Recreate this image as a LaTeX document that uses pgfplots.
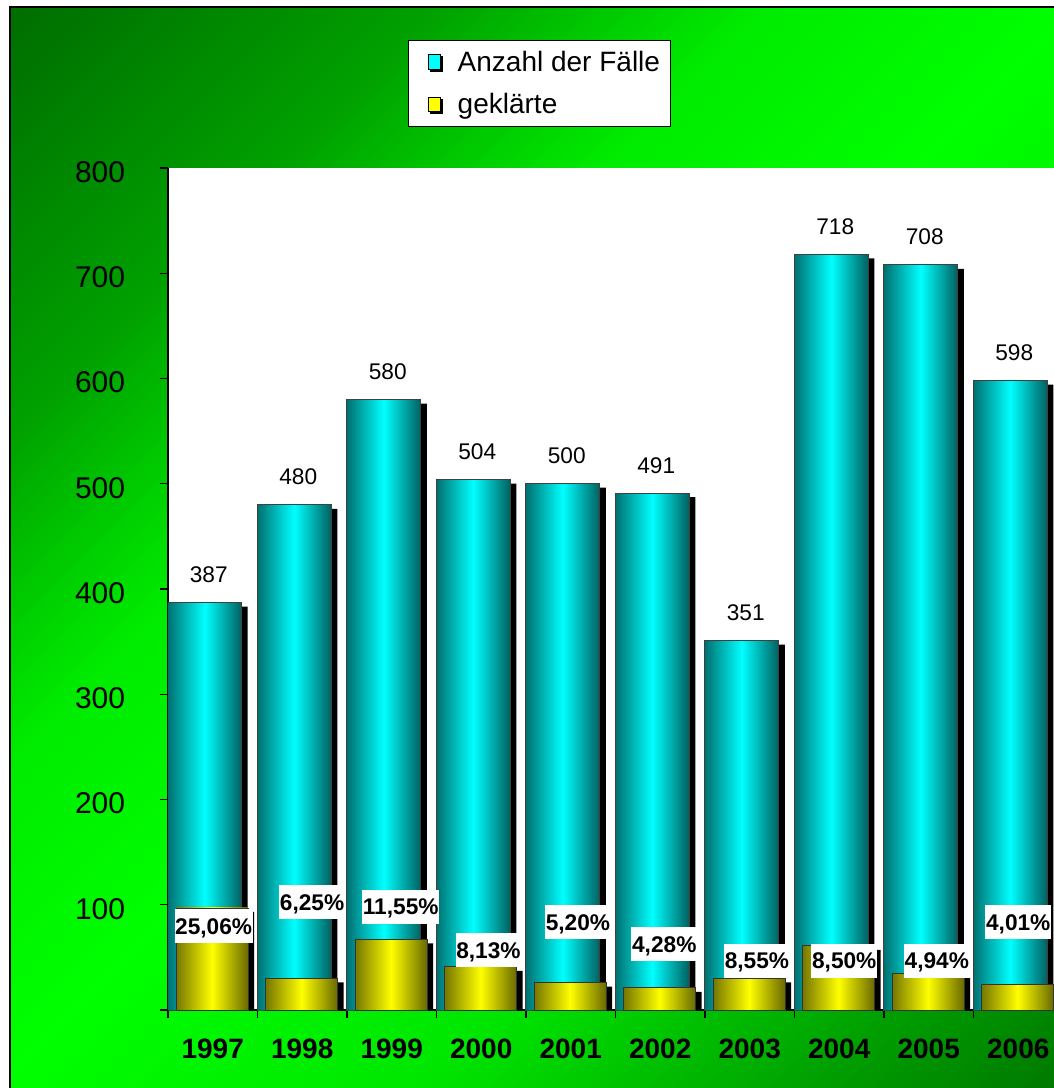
\documentclass[border=0pt]{standalone}
\usepackage{pgfplots}
\pgfplotsset{compat=1.18}
\usepackage{pgfplotstable}
\usepackage{fontspec}
\setmainfont{Liberation Sans}
\setsansfont{Liberation Sans}

\definecolor{cyanL}{RGB}{0,112,112}
\definecolor{cyanM}{RGB}{0,255,255}
\definecolor{cyanR}{RGB}{0,96,96}
\definecolor{yelL}{RGB}{118,118,0}
\definecolor{yelM}{RGB}{255,255,0}
\definecolor{yelR}{RGB}{105,105,0}

\pgfdeclareverticalshading{bgshade}{100bp}{%
  rgb(0bp)=(0,0.47,0);
  rgb(14.6bp)=(0,0.47,0);
  rgb(23.2bp)=(0,0.63,0);
  rgb(35.9bp)=(0,0.90,0);
  rgb(50bp)=(0,1,0);
  rgb(60.7bp)=(0,0.92,0);
  rgb(71.3bp)=(0,0.63,0);
  rgb(85.4bp)=(0,0.43,0);
  rgb(100bp)=(0,0.43,0)}

\pgfplotstableread{
x total cleared
0 387 97
1 480 30
2 580 67
3 504 41
4 500 26
5 491 21
6 351 30
7 718 61
8 708 35
9 598 24
}\data

\pgfplotstableread{
x y label
0.01 79.8 {25,06\%}
1.11 102.6 {6,25\%}
2.10 97.9 {11,55\%}
3.08 57.0 {8,13\%}
4.08 83.6 {5,20\%}
5.045 62.7 {4,28\%}
6.08 46.6 {8,55\%}
7.056 46.6 {8,50\%}
8.09 46.6 {4,94\%}
9.00 83.6 {4,01\%}
}\pct

\begin{document}
\begin{tikzpicture}
% background
\shade[shading=bgshade, shading angle=45]
  (-118.5pt,-62pt) rectangle (670pt,752.25pt);
\draw[black, line width=0.8pt] (-118.5pt,-62pt) -- (-118.5pt,752.25pt) -- (670pt,752.25pt);
\begin{axis}[
  at={(0,0)}, anchor=south west,
  scale only axis,
  width=671.25pt, height=631.5pt,
  xmin=-0.5, xmax=9.5, ymin=0, ymax=800,
  enlargelimits=false,
  axis lines*=left,
  axis line style={-, black, line width=1pt},
  axis background/.style={fill=white},
  tick align=outside,
  major tick length=6pt,
  tick style={black, line width=0.8pt},
  xtick={-0.5,0.5,...,9.5},
  xticklabels={},
  extra x ticks={0,1,...,9},
  extra x tick labels={1997,1998,1999,2000,2001,2002,2003,2004,2005,2006},
  extra x tick style={major tick length=0pt},
  xticklabel style={anchor=north, inner sep=0pt, yshift=-21.75pt,
     font=\bfseries\fontsize{21}{24}\selectfont},
  ytick={0,100,...,800},
  yticklabels={{},100,200,300,400,500,600,700,800},
  yticklabel style={anchor=east, inner sep=0pt, xshift=-26pt, yshift=-3pt,
     font=\fontsize{22.5}{26}\selectfont},
  /pgf/number format/assume math mode=true,
  legend style={at={(axis description cs:0.268,1.152)}, anchor=north west,
     draw=black, fill=white, line width=0.6pt,
     font=\fontsize{21}{25}\selectfont,
     inner xsep=6pt, inner ysep=6pt, row sep=11pt},
  legend cell align=left,
  /tikz/every odd column/.append style={column sep=9pt},
  legend image code/.code={
     \path (-9pt,0pt);
     \fill[black] (1.5pt,-7pt) rectangle (10.5pt,4pt);
     \draw[#1] (0pt,-5.5pt) rectangle (9pt,5.5pt);},
  clip=true,
]
\addlegendimage{draw=black, line width=0.6pt, fill=cyanM}
\addlegendentry{Anzahl der Fälle}
\addlegendimage{draw=black, line width=0.6pt, fill=yelM}
\addlegendentry{geklärte}

% cyan shadow
\addplot[ybar, bar width=55.5pt, bar shift=-1.5pt, fill=black, draw=none, forget plot]
  table[x=x, y expr=\thisrow{total}-3.8] {\data};
% cyan bars (one plot per bar so each bar gets its own shading)
\pgfplotsinvokeforeach{-0.2:0.2, 0.8:1.2, 1.8:2.2, 2.8:3.2, 3.8:4.2, 4.8:5.2, 5.8:6.2, 6.8:7.2, 7.8:8.2, 8.8:9.2}{
\addplot[ybar, bar width=55.5pt, bar shift=-6pt, draw=black!75, line width=0.6pt,
  left color=cyanL, right color=cyanR, middle color=cyanM, forget plot,
  restrict x to domain=#1]
  table[x=x, y=total] {\data};
}
% yellow shadow
\addplot[ybar, bar width=54pt, bar shift=4pt, fill=black, draw=none, forget plot]
  table[x=x, y expr=\thisrow{cleared}-3.8] {\data};
% yellow bars
\pgfplotsinvokeforeach{-0.2:0.2, 0.8:1.2, 1.8:2.2, 2.8:3.2, 3.8:4.2, 4.8:5.2, 5.8:6.2, 6.8:7.2, 7.8:8.2, 8.8:9.2}{
\addplot[ybar, bar width=54pt, bar shift=-0.5pt, draw=black!80, line width=0.6pt,
  left color=yelL, right color=yelR, middle color=yelM, forget plot,
  restrict x to domain=#1]
  table[x=x, y=cleared] {\data};
}
% value labels
\addplot[only marks, mark=none, forget plot, nodes near coords,
  every node near coord/.append style={anchor=base, inner sep=0pt, yshift=15pt,
    xshift=-3pt, text=black, font=\fontsize{17}{19}\selectfont}]
  table[x=x, y=total] {\data};
% percentage labels
\addplot[only marks, mark=none, forget plot, nodes near coords,
  point meta=explicit symbolic,
  every node near coord/.append style={anchor=center, text=black, fill=white,
    inner xsep=0.5pt, inner ysep=6.5pt, text height=12pt, text depth=0pt,
    font=\bfseries\fontsize{17}{19}\selectfont}]
  table[x=x, y=y, meta=label] {\pct};
\end{axis}
\pgfresetboundingbox
\path[use as bounding box] (-126pt,-58.5pt) rectangle (663.75pt,757.5pt);
\end{tikzpicture}
\end{document}
